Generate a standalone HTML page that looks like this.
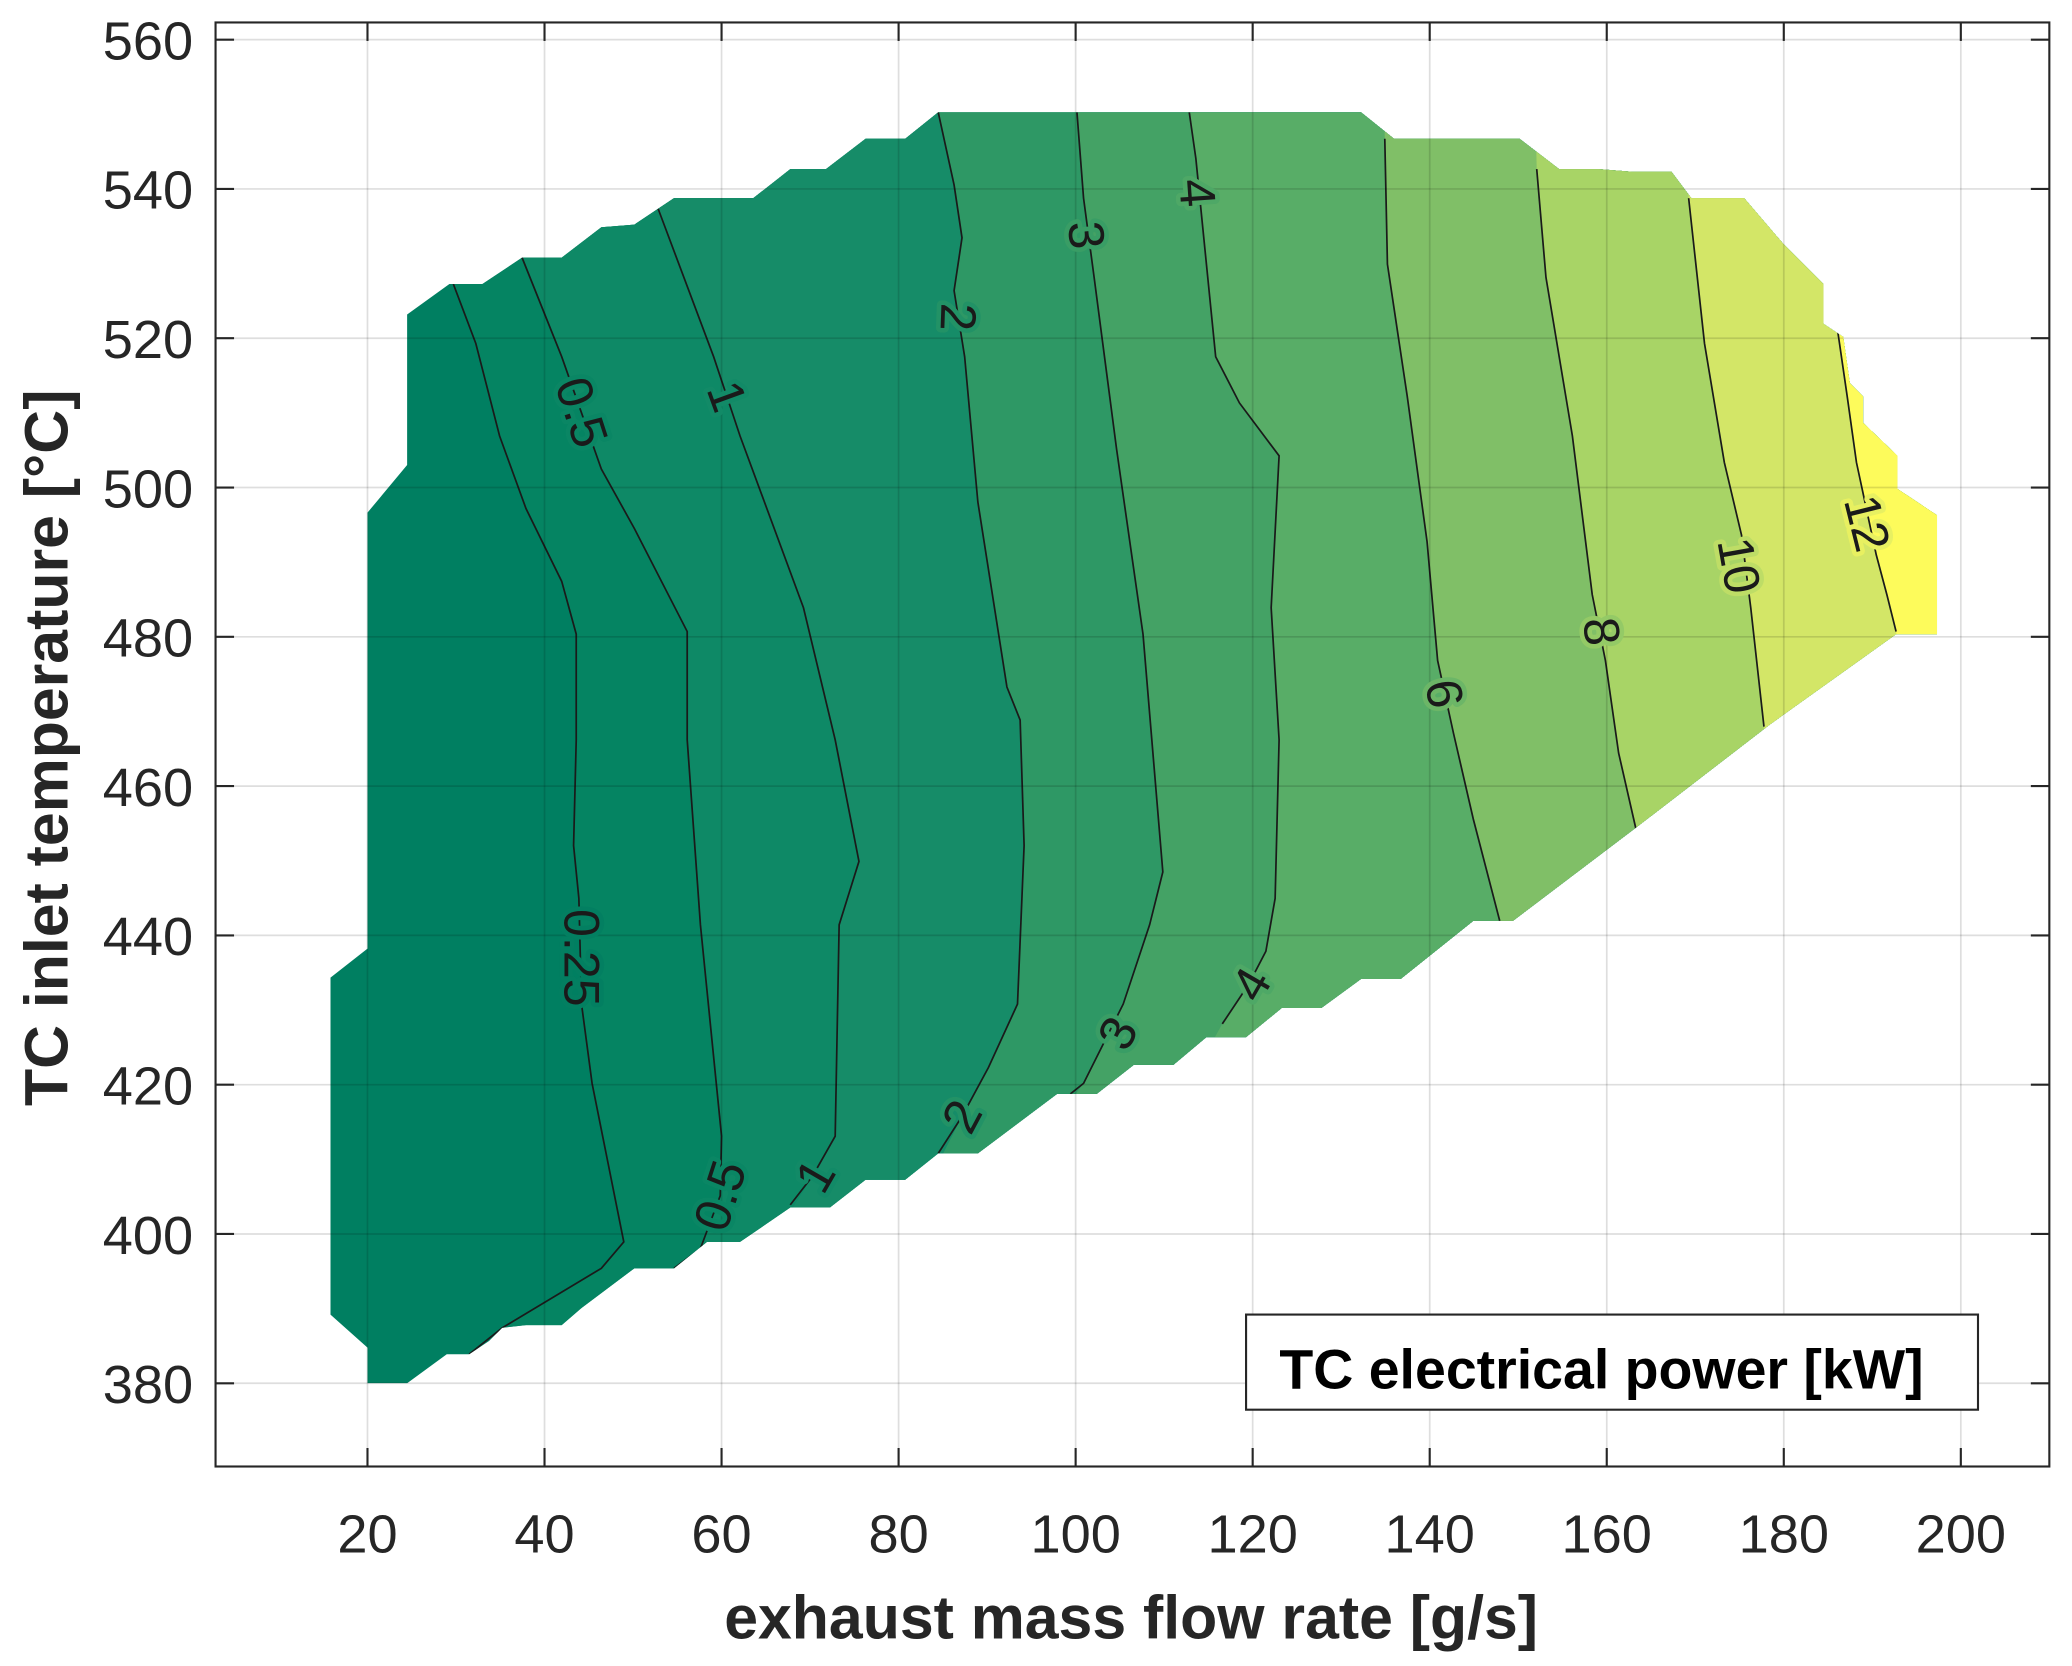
<!DOCTYPE html>
<html><head><meta charset="utf-8"><style>
html,body{margin:0;padding:0;background:#fff}
svg{display:block}
text{font-family:"Liberation Sans",Arial,sans-serif}
</style></head><body>
<svg width="2072" height="1666" viewBox="0 0 1568 1261" xmlns="http://www.w3.org/2000/svg">
<defs>
<clipPath id="dom"><polygon points="278,1047 308,1047 338,1025 355,1025 370,1015 380,1005 398,1003 425,1003 440,990 480,960 510,960 535,940 560,940 598,914 628,914 655,893 685,893 710,873 740,873 800,828 830,828 858,806 888,806 913,785 943,785 970,763 1000,763 1030,741 1060,741 1115,697 1145,697 1240,625 1340,548 1435,480 1466,480 1466,390 1436,370 1436,345 1410,320 1410,300 1400,290 1395,255 1380,245 1380,215 1350,185 1320,150 1280,150 1265,130 1235,130 1210,128 1180,128 1150,105 1055,105 1030,85 710,85 685,105 655,105 625,128 598,128 570,150 510,150 480,170 455,172 425,195 395,195 365,215 340,215 308,238 308,352 278,388 278,718 250,740 250,995 278,1020"/></clipPath>
</defs>
<g clip-path="url(#dom)">
<rect x="200" y="50" width="1350" height="1050" fill="#007f61"/>
<polygon fill="#058462" points="330,0 343,215 360,260 378,330 398,385 425,440 436,480 436,560 434,640 438,680 440,760 448,820 460,880 472,940 455,960 380,1005 330,1100 1600,1100 1600,0"/>
<polygon fill="#0e8966" points="385,0 395,195 425,270 455,355 480,400 520,478 520,560 530,700 546,860 545,905 530,945 480,1100 1600,1100 1600,0"/>
<polygon fill="#168c68" points="485,0 498,158 540,270 560,330 608,460 632,560 650,652 635,700 632,860 615,890 590,930 560,1100 1600,1100 1600,0"/>
<polygon fill="#2e9865" points="705,0 710,85 722,140 728,180 722,220 730,270 740,380 762,520 772,545 775,640 770,760 748,808 728,845 700,900 700,1100 1600,1100 1600,0"/>
<polygon fill="#44a265" points="812,0 815,85 820,150 828,210 845,340 865,480 880,660 870,700 850,760 820,820 790,860 790,1100 1600,1100 1600,0"/>
<polygon fill="#58ad67" points="898,0 900,85 905,120 912,190 920,270 938,305 968,345 962,460 968,560 965,680 958,720 945,745 925,775 900,820 900,1100 1600,1100 1600,0"/>
<polygon fill="#80bf67" points="1046,0 1048,105 1050,200 1065,300 1080,410 1088,500 1100,555 1115,620 1135,697 1150,760 1600,760 1600,0"/>
<polygon fill="#a8d466" points="1160,0 1163,128 1170,210 1190,330 1205,450 1215,500 1225,570 1238,627 1250,680 1600,680 1600,0"/>
<polygon fill="#d3e667" points="1275,0 1278,150 1290,260 1305,350 1318,405 1325,460 1335,550 1340,600 1600,600 1600,0"/>
<polygon fill="#fdfb5b" points="1385,0 1390,245 1398,300 1405,350 1420,420 1428,450 1435,478 1440,520 1600,520 1600,0"/>
<g fill="none" stroke="#1a1a1a" stroke-width="1.3">
<polyline points="343,215 360,260 378,330 398,385 425,440 436,480 436,560 434,640 438,680 440,760 448,820 460,880 472,940 455,960 380,1005 355,1025"/>
<polyline points="395,195 425,270 455,355 480,400 520,478 520,560 530,700 546,860 545,905 530,945 510,960"/>
<polyline points="498,158 540,270 560,330 608,460 632,560 650,652 635,700 632,860 615,890 598,912"/>
<polyline points="710,85 722,140 728,180 722,220 730,270 740,380 762,520 772,545 775,640 770,760 748,808 728,845 710,873"/>
<polyline points="815,85 820,150 828,210 845,340 865,480 880,660 870,700 850,760 820,820 810,828"/>
<polyline points="900,85 905,120 912,190 920,270 938,305 968,345 962,460 968,560 965,680 958,720 945,745 925,775"/>
<polyline points="1048,105 1050,200 1065,300 1080,410 1088,500 1100,555 1115,620 1135,697"/>
<polyline points="1163,128 1170,210 1190,330 1205,450 1215,500 1225,570 1238,627"/>
<polyline points="1278,150 1290,260 1305,350 1318,405 1325,460 1335,550"/>
<polyline points="1390,245 1398,300 1405,350 1420,420 1428,450 1435,478"/>
</g>
</g>
<!-- grid -->
<g stroke="#000" stroke-opacity="0.13" stroke-width="1.3">
<line x1="278" y1="17" x2="278" y2="1110"/><line x1="412" y1="17" x2="412" y2="1110"/><line x1="546" y1="17" x2="546" y2="1110"/><line x1="680" y1="17" x2="680" y2="1110"/><line x1="814" y1="17" x2="814" y2="1110"/><line x1="948" y1="17" x2="948" y2="1110"/><line x1="1082" y1="17" x2="1082" y2="1110"/><line x1="1216" y1="17" x2="1216" y2="1110"/><line x1="1350" y1="17" x2="1350" y2="1110"/><line x1="1484" y1="17" x2="1484" y2="1110"/>
<line x1="163" y1="30" x2="1551" y2="30"/><line x1="163" y1="143" x2="1551" y2="143"/><line x1="163" y1="256" x2="1551" y2="256"/><line x1="163" y1="369" x2="1551" y2="369"/><line x1="163" y1="482" x2="1551" y2="482"/><line x1="163" y1="595" x2="1551" y2="595"/><line x1="163" y1="708" x2="1551" y2="708"/><line x1="163" y1="821" x2="1551" y2="821"/><line x1="163" y1="934" x2="1551" y2="934"/><line x1="163" y1="1047" x2="1551" y2="1047"/>
</g>
<!-- contour labels -->
<g font-size="38" fill="#1a1a1a" text-anchor="middle" dominant-baseline="central" stroke-width="7" paint-order="stroke" stroke-linejoin="round">
<text transform="translate(440,725) rotate(90)" stroke="#037f61">0.25</text>
<text transform="translate(440,312) rotate(72)" stroke="#0a8664">0.5</text>
<text transform="translate(545,905) rotate(-72)" stroke="#0a8664">0.5</text>
<text transform="translate(550,300) rotate(70)" stroke="#128a67">1</text>
<text transform="translate(617,890) rotate(-60)" stroke="#128a67">1</text>
<text transform="translate(725,240) rotate(92)" stroke="#229266">2</text>
<text transform="translate(728,845) rotate(-62)" stroke="#229266">2</text>
<text transform="translate(822,178) rotate(86)" stroke="#399d65">3</text>
<text transform="translate(846,782) rotate(-62)" stroke="#399d65">3</text>
<text transform="translate(906,146) rotate(86)" stroke="#4ea866">4</text>
<text transform="translate(947,745) rotate(-60)" stroke="#4ea866">4</text>
<text transform="translate(1093,525) rotate(80)" stroke="#6cb667">6</text>
<text transform="translate(1212,478) rotate(84)" stroke="#94ca66">8</text>
<text transform="translate(1316,428) rotate(80)" stroke="#bedd66">10</text>
<text transform="translate(1413,396) rotate(76)" stroke="#e8f061">12</text>
</g>
<!-- axes box -->
<rect x="163" y="17" width="1388" height="1093" fill="none" stroke="#262626" stroke-width="1.6"/>
<g stroke="#262626" stroke-width="1.6">
<line x1="278" y1="1110" x2="278" y2="1096"/><line x1="412" y1="1110" x2="412" y2="1096"/><line x1="546" y1="1110" x2="546" y2="1096"/><line x1="680" y1="1110" x2="680" y2="1096"/><line x1="814" y1="1110" x2="814" y2="1096"/><line x1="948" y1="1110" x2="948" y2="1096"/><line x1="1082" y1="1110" x2="1082" y2="1096"/><line x1="1216" y1="1110" x2="1216" y2="1096"/><line x1="1350" y1="1110" x2="1350" y2="1096"/><line x1="1484" y1="1110" x2="1484" y2="1096"/>
<line x1="163" y1="30" x2="177" y2="30"/><line x1="163" y1="143" x2="177" y2="143"/><line x1="163" y1="256" x2="177" y2="256"/><line x1="163" y1="369" x2="177" y2="369"/><line x1="163" y1="482" x2="177" y2="482"/><line x1="163" y1="595" x2="177" y2="595"/><line x1="163" y1="708" x2="177" y2="708"/><line x1="163" y1="821" x2="177" y2="821"/><line x1="163" y1="934" x2="177" y2="934"/><line x1="163" y1="1047" x2="177" y2="1047"/>
<line x1="1551" y1="30" x2="1537" y2="30"/><line x1="1551" y1="143" x2="1537" y2="143"/><line x1="1551" y1="256" x2="1537" y2="256"/><line x1="1551" y1="369" x2="1537" y2="369"/><line x1="1551" y1="482" x2="1537" y2="482"/><line x1="1551" y1="595" x2="1537" y2="595"/><line x1="1551" y1="708" x2="1537" y2="708"/><line x1="1551" y1="821" x2="1537" y2="821"/><line x1="1551" y1="934" x2="1537" y2="934"/><line x1="1551" y1="1047" x2="1537" y2="1047"/>
<line x1="278" y1="17" x2="278" y2="31"/><line x1="412" y1="17" x2="412" y2="31"/><line x1="546" y1="17" x2="546" y2="31"/><line x1="680" y1="17" x2="680" y2="31"/><line x1="814" y1="17" x2="814" y2="31"/><line x1="948" y1="17" x2="948" y2="31"/><line x1="1082" y1="17" x2="1082" y2="31"/><line x1="1216" y1="17" x2="1216" y2="31"/><line x1="1350" y1="17" x2="1350" y2="31"/><line x1="1484" y1="17" x2="1484" y2="31"/>
</g>
<!-- tick labels -->
<g font-size="41" fill="#262626" text-anchor="middle">
<text x="278" y="1175">20</text><text x="412" y="1175">40</text><text x="546" y="1175">60</text><text x="680" y="1175">80</text><text x="814" y="1175">100</text><text x="948" y="1175">120</text><text x="1082" y="1175">140</text><text x="1216" y="1175">160</text><text x="1350" y="1175">180</text><text x="1484" y="1175">200</text>
</g>
<g font-size="41" fill="#262626" text-anchor="end">
<text x="146" y="45">560</text><text x="146" y="158">540</text><text x="146" y="271">520</text><text x="146" y="384">500</text><text x="146" y="497">480</text><text x="146" y="610">460</text><text x="146" y="723">440</text><text x="146" y="836">420</text><text x="146" y="949">400</text><text x="146" y="1062">380</text>
</g>
<text x="856" y="1240" font-size="46" font-weight="bold" fill="#262626" text-anchor="middle">exhaust mass flow rate [g/s]</text>
<text transform="translate(51,566) rotate(-90)" font-size="46" font-weight="bold" fill="#262626" text-anchor="middle">TC inlet temperature [°C]</text>
<!-- legend -->
<rect x="943" y="995" width="554" height="72" fill="#fff" stroke="#262626" stroke-width="1.6"/>
<text x="1212" y="1051" font-size="42" font-weight="bold" fill="#000" text-anchor="middle">TC electrical power [kW]</text>
</svg>
</body></html>
